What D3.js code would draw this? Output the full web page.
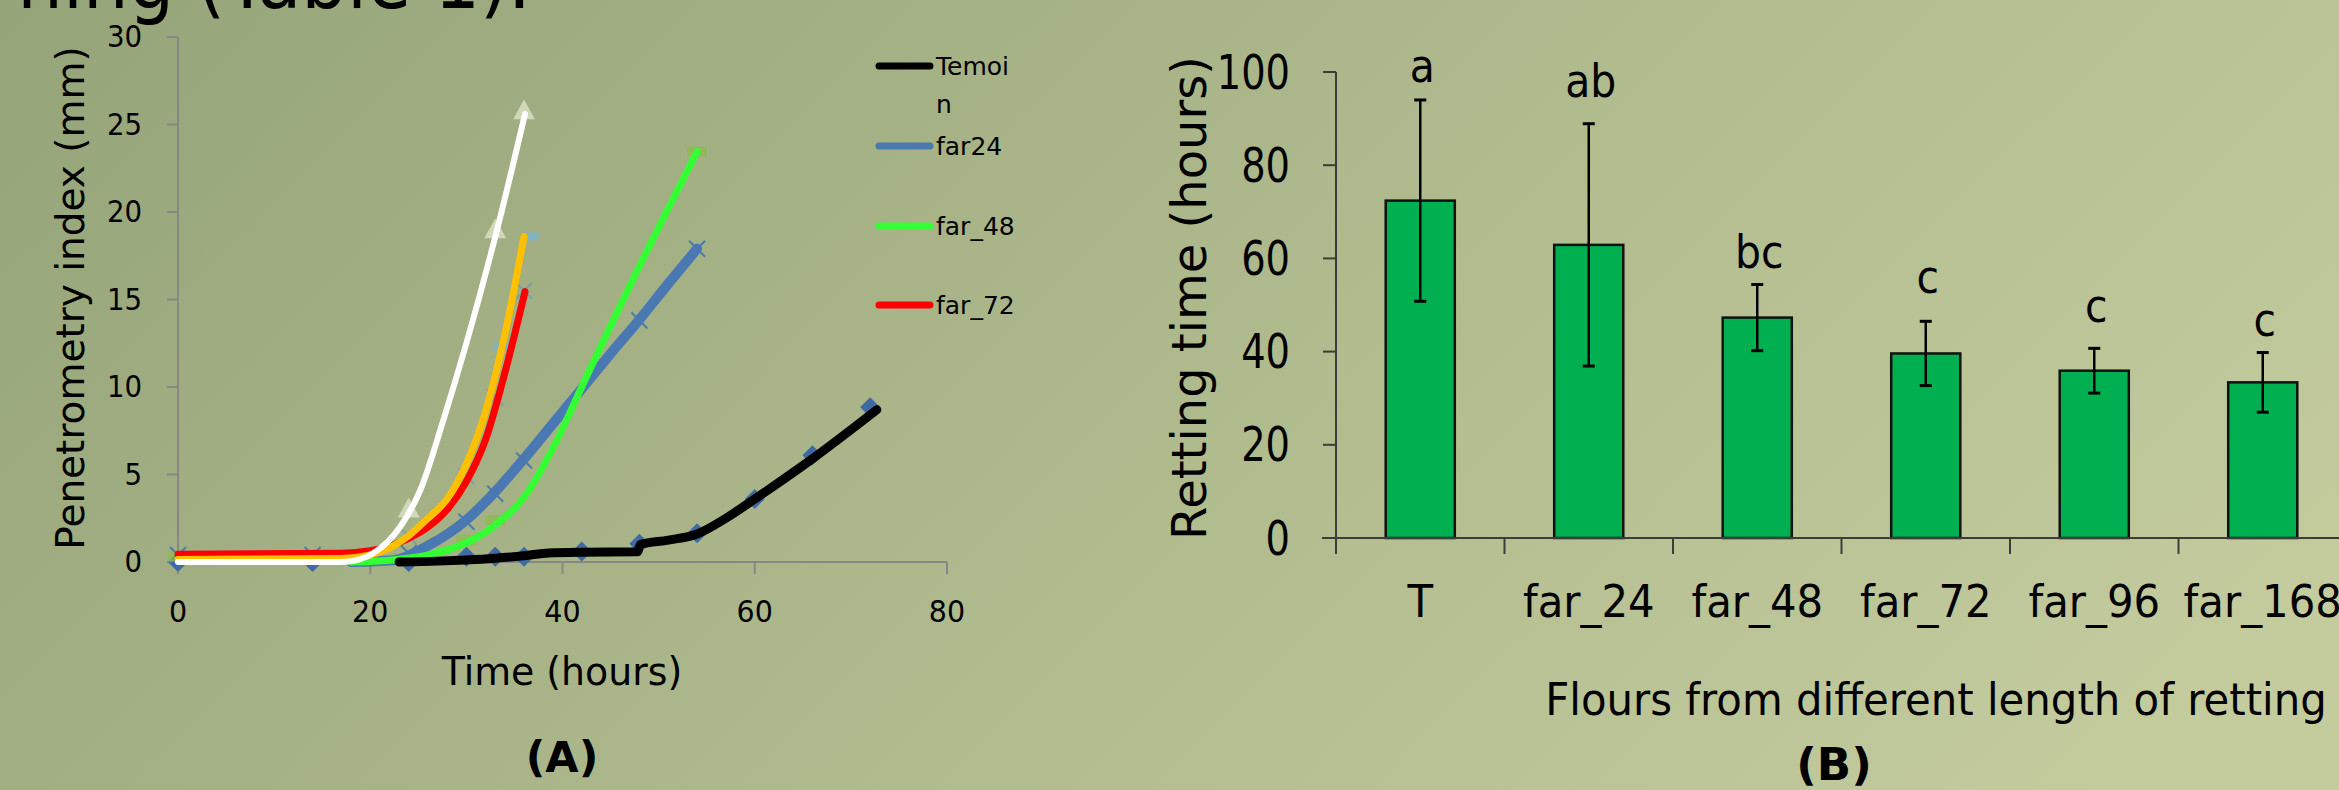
<!DOCTYPE html>
<html>
<head>
<meta charset="utf-8">
<script src="https://d3js.org/d3.v7.min.js"></script>
<style>
  html, body { margin: 0; padding: 0; overflow: hidden; }
  svg { display: block; font-family: "DejaVu Sans", Verdana, sans-serif; }
</style>
</head>
<body>
<div id="chart"></div>
<script>
// ---- chart A : penetrometry curves ----
var xTicksA = [0, 20, 40, 60, 80];
var yTicksA = [0, 5, 10, 15, 20, 25, 30];

// smooth curves [hours, mm]
var temoinLine = [[23,0],[27,0.05],[30,0.12],[33,0.22],[36,0.36],[38.6,0.52],[42,0.56],[47.8,0.58],[48.1,1.0],[51,1.25],[54,1.6],[57,2.5],[60,3.6],[66,5.9],[72.7,8.7]];
var far24Line  = [[18,0],[22.4,0.1],[25.9,0.9],[30,2.4],[32.8,3.9],[36,5.9],[39,7.9],[42,9.9],[45,11.9],[48,13.85],[51,15.9],[54,17.9]];
var far48Line  = [[18,0],[22,0.1],[26,0.4],[30,1.1],[33,2.1],[36,3.7],[39,6.5],[42,10.0],[45,13.5],[48,16.9],[51,20.2],[54,23.45]];
var far72Line  = [[0,0.45],[17,0.5],[20,0.65],[22,0.9],[24,1.35],[26,2.0],[28,3.0],[30,4.6],[32,7.0],[34,10.8],[36.1,15.45]];
var far96Line  = [[0,0.15],[17,0.2],[20,0.4],[22,0.8],[24,1.5],[26,2.5],[28,3.6],[30,5.6],[32,8.6],[34,13.0],[36,18.6]];
var far168Line = [[0,0],[16,0],[17.5,0.02],[20.3,0.5],[23.1,2.0],[25.2,4.1],[27.6,8.1],[30,12.5],[33.2,19.0],[36.1,25.6]];

// measured points (markers)
var temoinPts = [[0,0],[14,0],[24,0],[30,0.3],[33,0.3],[36,0.3],[42,0.6],[48,1.05],[54,1.65],[60,3.6],[66,6.1],[72,8.85]];
var far24Pts  = [[0,0.4],[14,0.4],[24,0.5],[30,2.3],[33,3.9],[36,5.8],[48,13.8],[54,17.9]];
var far72Pts  = [[24,1.45],[30,4.9],[33,9.4],[36,15.5]];
var far48Pts  = [[0,0.3],[30,1.26],[33,2.4],[54,23.45]];
var far96Pts  = [[33.7,12.3],[36.7,18.6]];
var far168Pts = [[24,3.05],[33,19.0],[36,25.8]];

var legendA = ["Temoi\nn", "far24", "far_48", "far_72"];

// ---- chart B : retting time ----
var catsB = ["T", "far_24", "far_48", "far_72", "far_96", "far_168"];
var meanB = [72.4, 62.9, 47.3, 39.6, 35.9, 33.4];
var errB  = [21.6, 26.0, 7.1, 6.9, 4.8, 6.4];
var sigB  = ["a", "ab", "bc", "c", "c", "c"];
var sigYB = [97.9, 94.6, 57.9, 52.6, 46.4, 43.3];
var yTicksB = [0, 20, 40, 60, 80, 100];

var W = 2339, H = 790;
var svg = d3.select("#chart").append("svg").attr("width", W).attr("height", H);

var grad = svg.append("defs").append("linearGradient").attr("id", "bg")
  .attr("gradientUnits", "userSpaceOnUse")
  .attr("x1", 0).attr("y1", 0).attr("x2", 1462).attr("y2", 1462);
grad.append("stop").attr("offset", 0).attr("stop-color", "#95a479");
grad.append("stop").attr("offset", 1).attr("stop-color", "#c4cc9e");
svg.append("rect").attr("width", W).attr("height", H).attr("fill", "url(#bg)");

function txt(g, x, y, s, size, sx, anchor, weight) {
  return g.append("text")
    .attr("transform", "translate(" + x + "," + y + ") scale(" + sx + ",1)")
    .attr("text-anchor", anchor || "start")
    .attr("font-size", size)
    .attr("font-weight", weight || "normal")
    .attr("fill", "#000")
    .text(s);
}

// slide title fragment at the top
txt(svg, 531, 8, "ning (Table 1).", 80, 0.9, "end");

// ================= chart A =================
var gA = svg.append("g");
var xA = d3.scaleLinear().domain([0, 80]).range([178, 947]);
var yA = d3.scaleLinear().domain([0, 30]).range([562, 37]);

gA.append("line").attr("x1", xA(0)).attr("x2", xA(0)).attr("y1", yA(0)).attr("y2", yA(30))
  .attr("stroke", "#878787").attr("stroke-width", 2);
gA.append("line").attr("x1", xA(0)).attr("x2", xA(80)).attr("y1", yA(0)).attr("y2", yA(0))
  .attr("stroke", "#878787").attr("stroke-width", 2);
yTicksA.forEach(function(t) {
  gA.append("line").attr("x1", xA(0) - 11).attr("x2", xA(0)).attr("y1", yA(t)).attr("y2", yA(t))
    .attr("stroke", "#878787").attr("stroke-width", 2);
  txt(gA, 142, yA(t), t, 30, 0.92, "end").attr("dominant-baseline", "central");
});
xTicksA.forEach(function(t) {
  gA.append("line").attr("x1", xA(t)).attr("x2", xA(t)).attr("y1", yA(0)).attr("y2", yA(0) + 12)
    .attr("stroke", "#878787").attr("stroke-width", 2);
  txt(gA, xA(t), 622, t, 31, 0.92, "middle");
});

txt(gA, 562, 685, "Time (hours)", 39, 0.97, "middle");
txt(gA, 562, 772, "(A)", 43, 1, "middle", "bold");
gA.append("text").attr("transform", "translate(84,298) rotate(-90)")
  .attr("text-anchor", "middle").attr("font-size", 39).text("Penetrometry index (mm)");

var lineA = d3.line().x(function(d) { return xA(d[0]); }).y(function(d) { return yA(d[1]); })
  .curve(d3.curveMonotoneX);

function diamond(g, pts, col, r) {
  g.selectAll(null).data(pts).enter().append("path")
    .attr("d", "M0," + (-r) + "L" + r + ",0L0," + r + "L" + (-r) + ",0Z")
    .attr("transform", function(d) { return "translate(" + xA(d[0]) + "," + yA(d[1]) + ")"; })
    .attr("fill", col);
}
function cross(g, pts, col, r, op) {
  g.selectAll(null).data(pts).enter().append("path")
    .attr("d", "M" + (-r) + "," + (-r) + "L" + r + "," + r + "M" + (-r) + "," + r + "L" + r + "," + (-r))
    .attr("transform", function(d) { return "translate(" + xA(d[0]) + "," + yA(d[1]) + ")"; })
    .attr("stroke", col).attr("stroke-width", 2).attr("fill", "none").attr("opacity", op);
}
function square(g, pts, col, r, op) {
  g.selectAll(null).data(pts).enter().append("rect")
    .attr("x", function(d) { return xA(d[0]) - r; }).attr("y", function(d) { return yA(d[1]) - r / 2; })
    .attr("width", 2 * r).attr("height", r).attr("fill", col).attr("opacity", op);
}
function tri(g, pts, col, r, op) {
  g.selectAll(null).data(pts).enter().append("path")
    .attr("d", "M0," + (-r) + "L" + r + "," + (r * 0.8) + "L" + (-r) + "," + (r * 0.8) + "Z")
    .attr("transform", function(d) { return "translate(" + xA(d[0]) + "," + yA(d[1]) + ")"; })
    .attr("fill", col).attr("opacity", op);
}

// markers under the lines
diamond(gA, temoinPts, "#3e6ba3", 10);
cross(gA, far24Pts, "#3f79b0", 8, 0.9);
cross(gA, far72Pts, "#6a8fc4", 8, 0.6);
square(gA, far48Pts, "#8cbc4c", 10, 0.7);
square(gA, far96Pts, "#7fb4c8", 8, 0.9);
tri(gA, far168Pts, "#dfe6cb", 11, 0.75);

var seriesA = [
  { pts: temoinLine, col: "#000000", w: 9 },
  { pts: far24Line, col: "#4a78b2", w: 10 },
  { pts: far48Line, col: "#33ff33", w: 7 },
  { pts: far72Line, col: "#ff0000", w: 7 },
  { pts: far96Line, col: "#ffc000", w: 7 },
  { pts: far168Line, col: "#ffffff", w: 6 }
];
// draw order: blue, green, black, red, orange, white
[1, 2, 0, 3, 4, 5].forEach(function(i) {
  var s = seriesA[i];
  gA.append("path").attr("d", lineA(s.pts)).attr("fill", "none")
    .attr("stroke", s.col).attr("stroke-width", s.w)
    .attr("stroke-linecap", "round").attr("stroke-linejoin", "round");
});

// legend
var legCols = ["#000000", "#4a78b2", "#33ff33", "#ff0000"];
var legY = [66, 146, 226, 305];
legendA.forEach(function(name, i) {
  gA.append("line").attr("x1", 879).attr("x2", 930).attr("y1", legY[i]).attr("y2", legY[i])
    .attr("stroke", legCols[i]).attr("stroke-width", 7).attr("stroke-linecap", "round");
  name.split("\n").forEach(function(part, j) {
    txt(gA, 936, legY[i] + 9 + j * 38, part, 25, 1, "start");
  });
});

// ================= chart B =================
var gB = svg.append("g");
var xB = d3.scaleBand().domain(catsB).range([1336, 2347]).paddingInner(0.59).paddingOuter(0.295);
var yB = d3.scaleLinear().domain([0, 100]).range([538, 72]);
var stepB = xB.step();

gB.selectAll(null).data(catsB).enter().append("rect")
  .attr("x", function(d) { return xB(d); })
  .attr("y", function(d, i) { return yB(meanB[i]); })
  .attr("width", xB.bandwidth())
  .attr("height", function(d, i) { return yB(0) - yB(meanB[i]); })
  .attr("fill", "#00b050").attr("stroke", "#111").attr("stroke-width", 2.5);

// error bars
catsB.forEach(function(c, i) {
  var cx = xB(c) + xB.bandwidth() / 2;
  var hi = yB(meanB[i] + errB[i]), lo = yB(meanB[i] - errB[i]);
  gB.append("line").attr("x1", cx).attr("x2", cx).attr("y1", hi).attr("y2", lo)
    .attr("stroke", "#000").attr("stroke-width", 2.5);
  [hi, lo].forEach(function(y) {
    gB.append("line").attr("x1", cx - 6).attr("x2", cx + 6).attr("y1", y).attr("y2", y)
      .attr("stroke", "#000").attr("stroke-width", 3);
  });
  txt(gB, cx + 2, yB(sigYB[i]), sigB[i], 47, 0.87, "middle");
  txt(gB, cx, 617, c, 45, 0.93, "middle");
});

// axes
gB.append("line").attr("x1", 1336).attr("x2", 1336).attr("y1", yB(0)).attr("y2", yB(100))
  .attr("stroke", "#3c3c3c").attr("stroke-width", 2);
gB.append("line").attr("x1", 1322).attr("x2", W).attr("y1", yB(0)).attr("y2", yB(0))
  .attr("stroke", "#3c3c3c").attr("stroke-width", 2);
yTicksB.forEach(function(t) {
  gB.append("line").attr("x1", 1323).attr("x2", 1336).attr("y1", yB(t)).attr("y2", yB(t))
    .attr("stroke", "#3c3c3c").attr("stroke-width", 2);
  txt(gB, 1290, yB(t), t, 48, 0.8, "end").attr("dominant-baseline", "central");
});
d3.range(catsB.length + 1).forEach(function(i) {
  var x = 1336 + i * stepB;
  gB.append("line").attr("x1", x).attr("x2", x).attr("y1", yB(0)).attr("y2", yB(0) + 16)
    .attr("stroke", "#3c3c3c").attr("stroke-width", 2);
});

gB.append("text").attr("transform", "translate(1206,298) rotate(-90)")
  .attr("text-anchor", "middle").attr("font-size", 48).text("Retting time (hours)");
txt(gB, 1936, 715, "Flours from different length of retting", 45, 0.93, "middle");
txt(gB, 1834, 780, "(B)", 45, 1, "middle", "bold");
</script>
</body>
</html>
